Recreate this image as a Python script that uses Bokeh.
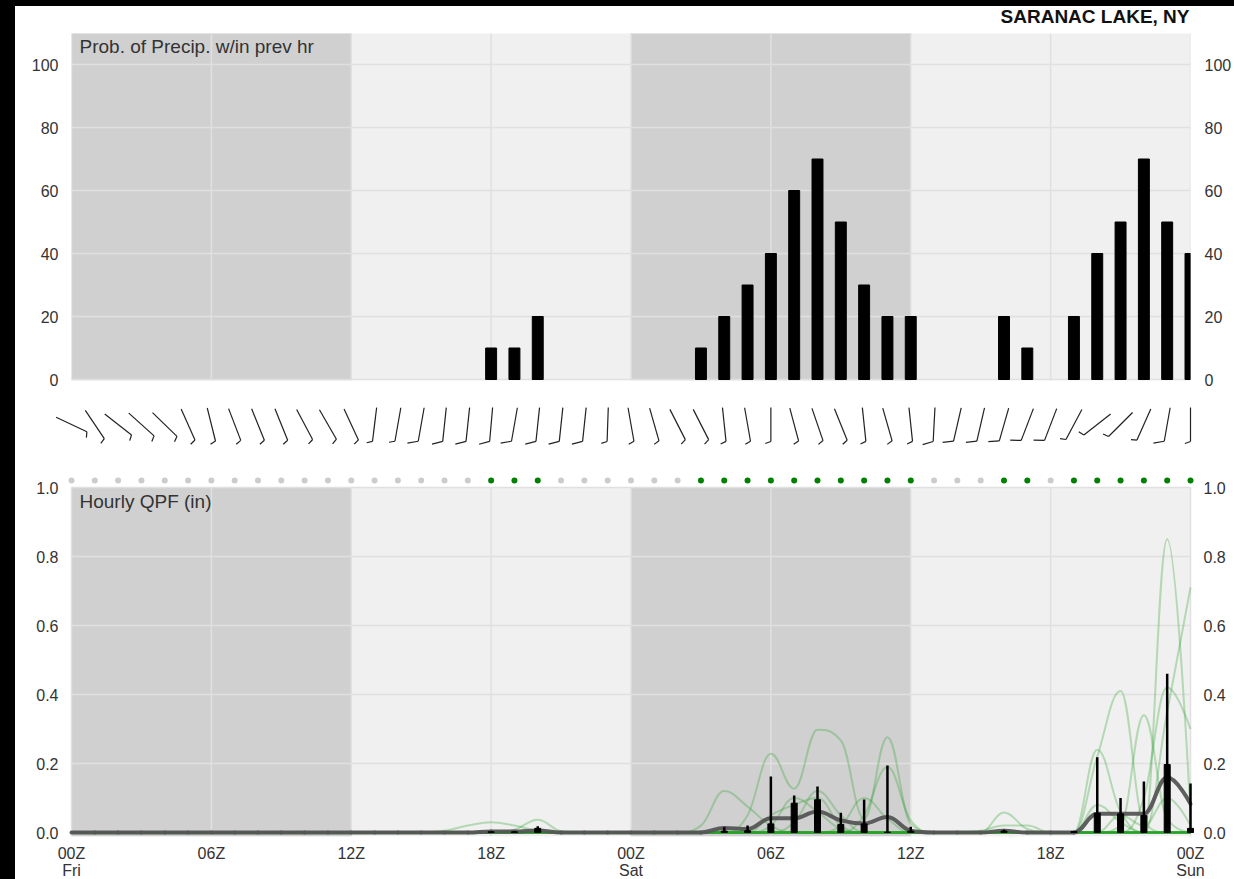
import math
from bokeh.plotting import figure
from bokeh.models import (Range1d, FixedTicker, LinearAxis, Label,
                          PrintfTickFormatter, GlobalInlineStyleSheet)
from bokeh.layouts import column
from bokeh.embed import file_html
from bokeh.resources import INLINE

# ---------------- data ----------------
station = "SARANAC LAKE, NY"
pop_title = "Prob. of Precip. w/in prev hr"
qpf_title = "Hourly QPF (in)"

hours = list(range(49))
day_ticks = [0, 6, 12, 18, 24, 30, 36, 42, 48]
day_tick_labels = ["00Z\nFri", "06Z", "12Z", "18Z", "00Z\nSat", "06Z", "12Z", "18Z", "00Z\nSun"]
night_start = [0, 24]
night_end = [12, 36]

pop_ticks = [0, 20, 40, 60, 80, 100]
pop = [0, 0, 0, 0, 0, 0, 0, 0, 0, 0, 0, 0, 0, 0, 0, 0, 0, 0,
       10, 10, 20, 0, 0, 0, 0, 0, 0,
       10, 20, 30, 40, 60, 70, 50, 30, 20, 20,
       0, 0, 0, 20, 10, 0, 20, 40, 50, 70, 50, 40]

wind_dir = [115, 146, 128, 132, 134, 156, 166, 159, 158, 158, 152, 150, 155,
            187, 190, 190, 186, 186, 185, 190, 186, 186, 186, 182,
            170, 164, 153, 153, 174, 170, 180, 165, 161, 158, 174, 164, 174,
            183, 193, 193, 196, 201, 201, 208, 232, 225, 204, 190, 180]
wind_kt = [5, 5, 5, 5, 5, 5, 5, 5, 5, 5, 5, 5, 5, 5, 5,
           10, 10, 10, 10, 10, 10, 10, 10,
           5, 5, 5, 5, 5, 5, 5, 5, 5, 5, 5, 5, 5, 5,
           10, 10, 10, 10, 10, 10,
           5, 5, 5, 5, 10, 5]

qpf_ticks = [0.0, 0.2, 0.4, 0.6, 0.8, 1.0]
qpf_mean = [0, 0, 0, 0, 0, 0, 0, 0, 0, 0, 0, 0, 0, 0, 0, 0, 0, 0,
            0.003, 0.003, 0.006, 0, 0, 0, 0, 0, 0, 0,
            0.013, 0.01, 0.041, 0.041, 0.061, 0.035, 0.026, 0.045, 0.005,
            0, 0, 0, 0.005, 0, 0, 0,
            0.054, 0.054, 0.054, 0.16, 0.083]

box_hours = [18, 19, 20, 28, 29, 30, 31, 32, 33, 34, 35, 36, 40, 43, 44, 45, 46, 47, 48]
box_whisker_top = [0.003, 0.003, 0.018, 0.015, 0.02, 0.162, 0.107, 0.133, 0.057, 0.096,
                   0.194, 0.017, 0.008, 0.004, 0.218, 0.10, 0.148, 0.46, 0.142]
box_top = [0.002, 0.002, 0.012, 0.004, 0.005, 0.025, 0.085, 0.095, 0.023, 0.025,
           0.001, 0.004, 0.004, 0.003, 0.056, 0.054, 0.049, 0.197, 0.012]

# ensemble members (hour: in), all other hours 0
member_01 = {16: 0.005, 17: 0.02, 18: 0.03, 19: 0.02, 20: 0.005}
member_02 = {19: 0.008, 20: 0.037, 21: 0.004}
member_03 = {27: 0.02, 28: 0.12, 29: 0.075, 30: 0.02}
member_04 = {29: 0.05, 30: 0.228, 31: 0.127, 32: 0.298, 33: 0.267, 34: 0.04, 35: 0.276, 36: 0.025}
member_05 = {34: 0.05, 35: 0.19, 36: 0.035}
member_06 = {30: 0.02, 31: 0.1, 32: 0.06, 33: 0.01}
member_07 = {31: 0.03, 32: 0.12, 33: 0.05}
member_08 = {30: 0.05, 31: 0.08, 32: 0.1, 33: 0.02}
member_09 = {33: 0.02, 34: 0.1, 35: 0.04}
member_10 = {40: 0.058, 41: 0.01}
member_11 = {39: 0.005, 40: 0.02, 41: 0.02}
member_12 = {44: 0.22, 45: 0.41, 46: 0.03}
member_13 = {47: 0.85, 48: 0.05}
member_14 = {45: 0.02, 46: 0.34, 47: 0.04}
member_15 = {47: 0.35, 48: 0.71}
member_16 = {46: 0.1, 47: 0.42, 48: 0.3}
member_17 = {44: 0.08, 45: 0.03}
member_18 = {44: 0.24, 45: 0.06}
member_19 = {45: 0.05, 46: 0.02, 47: 0.1, 48: 0.02}
members = [member_01, member_02, member_03, member_04, member_05, member_06, member_07,
           member_08, member_09, member_10, member_11, member_12, member_13, member_14,
           member_15, member_16, member_17, member_18, member_19]

# ---------------- layout ----------------
FONT = "Liberation Sans"
FIG_W = 1219
FL, FR = 56, 44                      # panel left / right offsets in figure
FW = FIG_W - FL - FR                 # panel width (px)
PX_HR = FW / 48.0

# top panel (frame also covers the title strip above the panel)
P1_H, P1_T, P1_B = 386, 0, 12
P1_FH = P1_H - P1_T - P1_B
TITLE_STRIP = 27                     # px between frame top and panel top
POP_PX = 3.15
pop_y0 = -1.0 / POP_PX
pop_y1 = pop_y0 + P1_FH / POP_PX
pop_panel_top = pop_y1 - TITLE_STRIP / POP_PX

# wind strip
PM_H = 80
BARB_Y = 48                          # px above strip bottom

# bottom panel
PAD = 4                              # px of frame outside the panel on each side
P2_T, P2_B = 0, 63
P2_FH = 364
P2_H = P2_T + P2_FH + P2_B
QPF_PX = 345.0
q_y0 = -4.0 / QPF_PX
q_y1 = 1.0 + 15.0 / QPF_PX

DARK = "#d0d0d0"
LIGHT = "#f0f0f0"
GRID = "#e0e0e0"


def style_axis(ax, standoff):
    ax.axis_line_color = None
    ax.major_tick_line_color = None
    ax.minor_tick_line_color = None
    ax.major_label_standoff = standoff
    ax.major_label_text_font = FONT
    ax.major_label_text_font_size = "16px"
    ax.major_label_text_color = "#333333"


def spline(xs, ys, smoothing=1.5):
    """Bezier control points of a Highcharts-like spline through the points."""
    n = len(xs)
    lc = [(xs[i], ys[i]) for i in range(n)]
    rc = [(xs[i], ys[i]) for i in range(n)]
    d = smoothing + 1
    for i in range(1, n - 1):
        x, y = xs[i], ys[i]
        lx, ly = xs[i - 1], ys[i - 1]
        nx, ny = xs[i + 1], ys[i + 1]
        lcx = (smoothing * x + lx) / d
        lcy = (smoothing * y + ly) / d
        rcx = (smoothing * x + nx) / d
        rcy = (smoothing * y + ny) / d
        corr = 0.0
        if rcx != lcx:
            corr = (rcy - lcy) * (rcx - x) / (rcx - lcx) + y - rcy
        lcy += corr
        rcy += corr
        if lcy > ly and lcy > y:
            lcy = max(ly, y); rcy = 2 * y - lcy
        elif lcy < ly and lcy < y:
            lcy = min(ly, y); rcy = 2 * y - lcy
        if rcy > ny and rcy > y:
            rcy = max(ny, y); lcy = 2 * y - rcy
        elif rcy < ny and rcy < y:
            rcy = min(ny, y); lcy = 2 * y - rcy
        lc[i] = (lcx, lcy)
        rc[i] = (rcx, rcy)
    seg = dict(x0=[], y0=[], x1=[], y1=[], cx0=[], cy0=[], cx1=[], cy1=[])
    for i in range(1, n):
        seg["x0"].append(xs[i - 1]); seg["y0"].append(ys[i - 1])
        seg["x1"].append(xs[i]); seg["y1"].append(ys[i])
        seg["cx0"].append(rc[i - 1][0]); seg["cy0"].append(rc[i - 1][1])
        seg["cx1"].append(lc[i][0]); seg["cy1"].append(lc[i][1])
    return seg


# ---------------- top panel: probability of precipitation ----------------
p1 = figure(width=FIG_W, height=P1_H, x_range=Range1d(0, 48), y_range=Range1d(pop_y0, pop_y1),
            output_backend="svg", toolbar_location=None, x_axis_location=None,
            min_border_left=FL, min_border_right=FR, min_border_top=P1_T, min_border_bottom=P1_B,
            background_fill_color="white", border_fill_color="white", outline_line_color=None,
            frame_align=False)
p1.xgrid.visible = False
p1.ygrid.visible = False

p1.quad(left=[0], right=[48], bottom=[pop_y0], top=[pop_panel_top], color=LIGHT, line_color=None)
p1.quad(left=night_start, right=night_end, bottom=pop_y0, top=pop_panel_top, color=DARK,
        line_color=None)
p1.segment(x0=day_ticks, y0=[pop_y0] * len(day_ticks), x1=day_ticks,
           y1=[pop_panel_top] * len(day_ticks), line_color=GRID, line_width=1.5)
p1.segment(x0=[0] * len(pop_ticks), y0=pop_ticks, x1=[48] * len(pop_ticks), y1=pop_ticks,
           line_color=GRID, line_width=1.5)
bar_x = [h for h, v in zip(hours, pop) if v > 0]
bar_top = [v for v in pop if v > 0]
p1.vbar(x=bar_x, bottom=0, top=bar_top, width=0.47, color="black")

p1.yaxis.ticker = FixedTicker(ticks=pop_ticks)
style_axis(p1.yaxis[0], 7)
ra = LinearAxis(ticker=FixedTicker(ticks=pop_ticks))
style_axis(ra, 8)
p1.add_layout(ra, "right")

p1.add_layout(Label(x=0, y=pop_panel_top, x_offset=8, y_offset=-2, text=pop_title,
                    text_baseline="top", text_font=FONT, text_font_size="19px",
                    text_color="#333333"))
p1.add_layout(Label(x=48, y=pop_panel_top, x_offset=-1, y_offset=17, text=station,
                    text_align="right", text_baseline="middle", text_font=FONT,
                    text_font_size="19px", text_font_style="bold", text_color="#111111"))

# ---------------- wind barb strip ----------------
xm0 = -FL / PX_HR
xm1 = 48 + FR / PX_HR
pm = figure(width=FIG_W, height=PM_H, x_range=Range1d(xm0, xm1), y_range=Range1d(0, PM_H),
            output_backend="svg", toolbar_location=None, x_axis_location=None, y_axis_location=None,
            min_border_left=0, min_border_right=0, min_border_top=0, min_border_bottom=0,
            background_fill_color="white", border_fill_color="white", outline_line_color=None,
            frame_align=False)
pm.xgrid.visible = False
pm.ygrid.visible = False
STAFF = 34.0
bx0, by0, bx1, by1 = [], [], [], []
for h, d, kt in zip(hours, wind_dir, wind_kt):
    a = math.radians(270 - d)
    ux, uy = math.cos(a), math.sin(a)
    sx, sy = ux * STAFF / 2 / PX_HR, uy * STAFF / 2
    ox, oy = h - sx, BARB_Y - sy
    bx0.append(h + sx); by0.append(BARB_Y + sy); bx1.append(ox); by1.append(oy)
    b = a + math.radians(110)
    tl = 11.0 if kt >= 10 else 6.0
    bx0.append(ox); by0.append(oy)
    bx1.append(ox + math.cos(b) * tl / PX_HR); by1.append(oy + math.sin(b) * tl)
pm.segment(x0=bx0, y0=by0, x1=bx1, y1=by1, line_color="#222222", line_width=1.2)

# ---------------- bottom panel: precip dots, hourly QPF ----------------
x_start = -PAD / PX_HR
x_end = 48 + PAD / PX_HR
p2 = figure(width=FIG_W, height=P2_H, x_range=Range1d(x_start, x_end), y_range=Range1d(q_y0, q_y1),
            output_backend="svg", toolbar_location=None,
            min_border_left=FL - PAD, min_border_right=FR - PAD, min_border_top=P2_T,
            min_border_bottom=P2_B,
            background_fill_color="white", border_fill_color="white", outline_line_color=None,
            frame_align=False)
p2.xgrid.visible = False
p2.ygrid.visible = False

# panel background
p2.quad(left=[0], right=[48], bottom=[q_y0], top=[1.0], color=LIGHT, line_color=None)
p2.quad(left=night_start, right=night_end, bottom=q_y0, top=1.0, color=DARK, line_color=None)
p2.segment(x0=day_ticks, y0=[q_y0] * len(day_ticks), x1=day_ticks, y1=[1.0] * len(day_ticks),
           line_color=GRID, line_width=1.5)
p2.segment(x0=[0] * len(qpf_ticks), y0=qpf_ticks, x1=[48] * len(qpf_ticks), y1=qpf_ticks,
           line_color=GRID, line_width=1.5)

# ensemble members
allseg = dict(x0=[], y0=[], x1=[], y1=[], cx0=[], cy0=[], cx1=[], cy1=[])
for m in members:
    ys = [m.get(h, 0.0) for h in hours]
    s = spline(hours, ys)
    for k in allseg:
        allseg[k].extend(s[k])
p2.bezier(source=allseg, x0="x0", y0="y0", x1="x1", y1="y1", cx0="cx0", cy0="cy0",
          cx1="cx1", cy1="cy1", line_color="#2ca02c", line_alpha=0.3, line_width=2)

# ensemble mean
ms = spline(hours, qpf_mean)
p2.bezier(source=ms, x0="x0", y0="y0", x1="x1", y1="y1", cx0="cx0", cy0="cy0",
          cx1="cx1", cy1="cy1", line_color="#555555", line_alpha=0.95, line_width=4,
          line_cap="round")

# box plots
p2.segment(x0=box_hours, y0=[0] * len(box_hours), x1=box_hours, y1=box_whisker_top,
           line_color="black", line_width=2.5)
p2.vbar(x=box_hours, bottom=0, top=box_top, width=6 / PX_HR, color="black")

# precip indicator dots
dot_y = 1.0 + 7 / QPF_PX
dot_colors = ["#008000" if v > 0 else "#cccccc" for v in pop]
p2.scatter(x=hours, y=[dot_y] * len(hours), size=6, color=dot_colors, line_color=None)

# axes
p2.yaxis.ticker = FixedTicker(ticks=qpf_ticks)
p2.yaxis.formatter = PrintfTickFormatter(format="%.1f")
style_axis(p2.yaxis[0], 3)
ra2 = LinearAxis(ticker=FixedTicker(ticks=qpf_ticks), formatter=PrintfTickFormatter(format="%.1f"))
style_axis(ra2, 3)
p2.add_layout(ra2, "right")
p2.xaxis.ticker = FixedTicker(ticks=day_ticks)
p2.xaxis.major_label_overrides = {t: lab for t, lab in zip(day_ticks, day_tick_labels)}
style_axis(p2.xaxis[0], 2)
p2.xaxis.major_label_text_line_height = 1.0

p2.add_layout(Label(x=0, y=1.0, x_offset=8, y_offset=-3, text=qpf_title, text_baseline="top",
                    text_font=FONT, text_font_size="19px", text_color="#333333"))

p = column(p1, pm, p2, margin=(6, 0, 0, 15), styles={"background-color": "white"},
           stylesheets=[GlobalInlineStyleSheet(css="html, body { background: #000; overflow: hidden; }")])

open("out.html", "w").write(file_html(p, INLINE))
